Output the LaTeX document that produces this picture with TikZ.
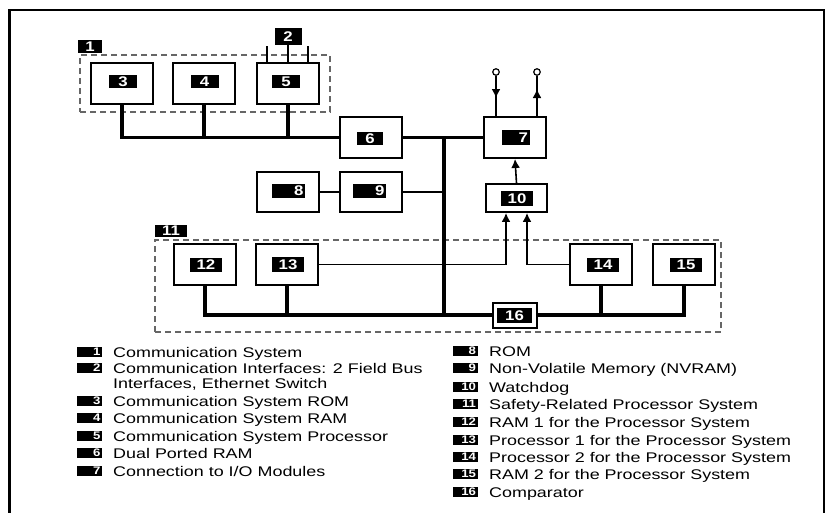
\documentclass[tikz,border=0pt]{standalone}
\usepackage{fontspec}
\usepackage{graphicx}
\setmainfont{Liberation Sans}
\usetikzlibrary{arrows.meta}
\newcommand{\Wd}[1]{\scalebox{1.28}[1]{#1}}
\newcommand{\Wt}[1]{\scalebox{1.2}[1]{#1}}
\tikzset{
 blk/.style={draw=black, line width=1.9pt, fill=white, minimum width=62pt, minimum height=41pt, inner sep=0},
 tag/.style={fill=black, text=white, inner sep=0, minimum width=28pt, minimum height=13pt, font=\fontsize{14}{14}\selectfont\bfseries},
 ltag/.style={fill=black, text=white, inner sep=0, minimum width=25pt, minimum height=10pt, font=\fontsize{11}{11}\selectfont\bfseries},
 ltext/.style={anchor=base west, inner sep=0, font=\fontsize{14}{14}\selectfont},
 bus/.style={line width=3.6pt},
 wire/.style={line width=2.3pt},
 thinw/.style={line width=1.6pt},
 grp/.style={draw=black!60, dash pattern=on 6pt off 4pt, line width=1.4pt, inner sep=0},
 arr/.style={-{Latex[length=9pt,width=9pt]}},
 term/.style={circle, draw, fill=white, inner sep=0, minimum size=6.5pt, line width=1.2pt}
}
\begin{document}
\begin{tikzpicture}[x=1pt,y=-1pt]
\useasboundingbox (0,0) rectangle (827,512);
% outer frame
\draw[line width=2.8pt] (9.5,513) -- (9.5,10) -- (824,10) -- (824,513);

% groups
\node[grp, minimum width=250pt, minimum height=57pt] (g1) at (205,83.5) {};
\node[grp, minimum width=566pt, minimum height=92pt] (g11) at (438,286) {};
\node[tag, minimum width=24pt, minimum height=13pt] (t1) at (90,46.5) {\Wt{1}};
\node[tag, minimum width=32pt, minimum height=12pt] (t11) at (171,231) {\Wt{11}};

% boxes
\node[blk] (b3) at (122,83.5) {};
\node[blk] (b4) at (204,83.5) {};
\node[blk] (b5) at (288,83.5) {};
\node[blk] (b6) at (371,137.5) {};
\node[blk] (b7) at (515,137.5) {};
\node[blk, minimum height=40pt] (b8) at (288,192) {};
\node[blk, minimum height=40pt] (b9) at (371,192) {};
\node[blk, minimum width=61pt, minimum height=28pt] (b10) at (516.5,198) {};
\node[blk] (b12) at (205,264.5) {};
\node[blk] (b13) at (287,264.5) {};
\node[blk] (b14) at (601,264.5) {};
\node[blk] (b15) at (684,264.5) {};

% label 2 and its lines
\node[tag, minimum width=27pt, minimum height=17pt] (t2) at (288,36.5) {\Wt{2}};
\coordinate (l2a) at (267,46);
\coordinate (l2c) at (308,46);
\draw[thinw] (t2.south) -- (b5.north);
\draw[thinw] (l2a) -- (l2a |- b5.north);
\draw[thinw] (l2c) -- (l2c |- b5.north);

% communication bus
\draw[bus] (b3.south) |- (b6.west);
\draw[bus] (b4.south) -- (b4.south |- b6.west);
\draw[bus] (b5.south) -- (b5.south |- b6.west);
\draw[wire] (b6.east) -- (b7.west);
\coordinate (bt) at (444,137.5);
\coordinate (bb) at (444,315);
\draw[bus] (bt) -- (bb);
\draw[wire] (b9.east) -- (bt |- b9.east);
\draw[wire] (b8.east) -- (b9.west);

% comparator and processor bus
\draw[bus] (b12.south) |- (bb);
\draw[bus] (b13.south) -- (b13.south |- bb);
\draw[bus] (bb) -| (b15.south);
\draw[bus] (b14.south) -- (b14.south |- bb);
\node[blk, minimum width=44pt, minimum height=25pt] (b16) at (515,315.5) {};

% watchdog connections
\draw[thinw, arr] (b10.north) -- (b7.south);
\draw[thinw, arr] (b13.east) -| ([xshift=-10.5pt]b10.south);
\draw[thinw, arr] (b14.west) -| ([xshift=10.5pt]b10.south);

% I/O terminals
\node[term] (c1) at (496,72) {};
\node[term] (c2) at (537,72) {};
\coordinate (a1) at (496,98);
\coordinate (a2) at (537,89);
\draw[thinw] (c1.south) -- (c1 |- b7.north);
\draw[thinw, arr] (c1.south) -- (a1);
\draw[thinw] (c2.south) -- (c2 |- b7.north);
\draw[thinw, arr] (c2 |- b7.north) -- (a2);

% tags in boxes
\node[tag] (n3) at (123,81.5) {\Wt{3}};
\node[tag] (n4) at (204.5,81.5) {\Wt{4}};
\node[tag] (n5) at (286,81.5) {\Wt{5}};
\node[tag, minimum width=26pt] (n6) at (370,138.5) {\Wt{6}};
\node[tag, minimum height=15pt] (n7) at (516,137.5) {\makebox[24pt][r]{\Wt{7}}};
\node[tag, minimum width=33pt, minimum height=14pt] (n8) at (288.5,191) {\makebox[30pt][r]{\Wt{8}}};
\node[tag, minimum width=33pt, minimum height=14pt] (n9) at (369.5,191) {\makebox[30pt][r]{\Wt{9}}};
\node[tag, minimum width=32pt, minimum height=15pt] (n10) at (517,198.5) {\Wt{10}};
\node[tag, minimum width=32pt, minimum height=14pt] (n12) at (206,265) {\Wt{12}};
\node[tag, minimum width=32pt, minimum height=15pt] (n13) at (288,264.5) {\Wt{13}};
\node[tag, minimum width=32pt, minimum height=14pt] (n14) at (603,265) {\Wt{14}};
\node[tag, minimum width=32pt, minimum height=14pt] (n15) at (686,265) {\Wt{15}};
\node[tag, minimum width=35pt, minimum height=15pt] (n16) at (514.5,315.5) {\Wt{16}};

% legend left
\foreach \n/\y/\t in {1/352/{Communication System},
                      2/368/{Communication Interfaces: 2 Field Bus},
                      3/401/{Communication System ROM},
                      4/418/{Communication System RAM},
                      5/436/{Communication System Processor},
                      6/453/{Dual Ported RAM},
                      7/471/{Connection to I/O Modules}}{
  \node[ltag] (la\n) at (89.5,\y) {\makebox[22pt][r]{\Wt{\n}}};
  \node[ltext] (lx\n) at (113,\y+5) {\Wd{\t}};
}
\node[ltext] (lx2b) at (113,388) {\Wd{Interfaces, Ethernet Switch}};

% legend right
\foreach \n/\y/\t in {8/351/{ROM},
                      9/368/{Non-Volatile Memory (NVRAM)},
                      10/387/{Watchdog},
                      11/404/{Safety-Related Processor System},
                      12/422/{RAM 1 for the Processor System},
                      13/440/{Processor 1 for the Processor System},
                      14/457/{Processor 2 for the Processor System},
                      15/474/{RAM 2 for the Processor System},
                      16/492/{Comparator}}{
  \node[ltag] (lb\n) at (465,\y) {\makebox[22pt][r]{\Wt{\n}}};
  \node[ltext] (ly\n) at (489,\y+5) {\Wd{\t}};
}
\end{tikzpicture}
\end{document}
